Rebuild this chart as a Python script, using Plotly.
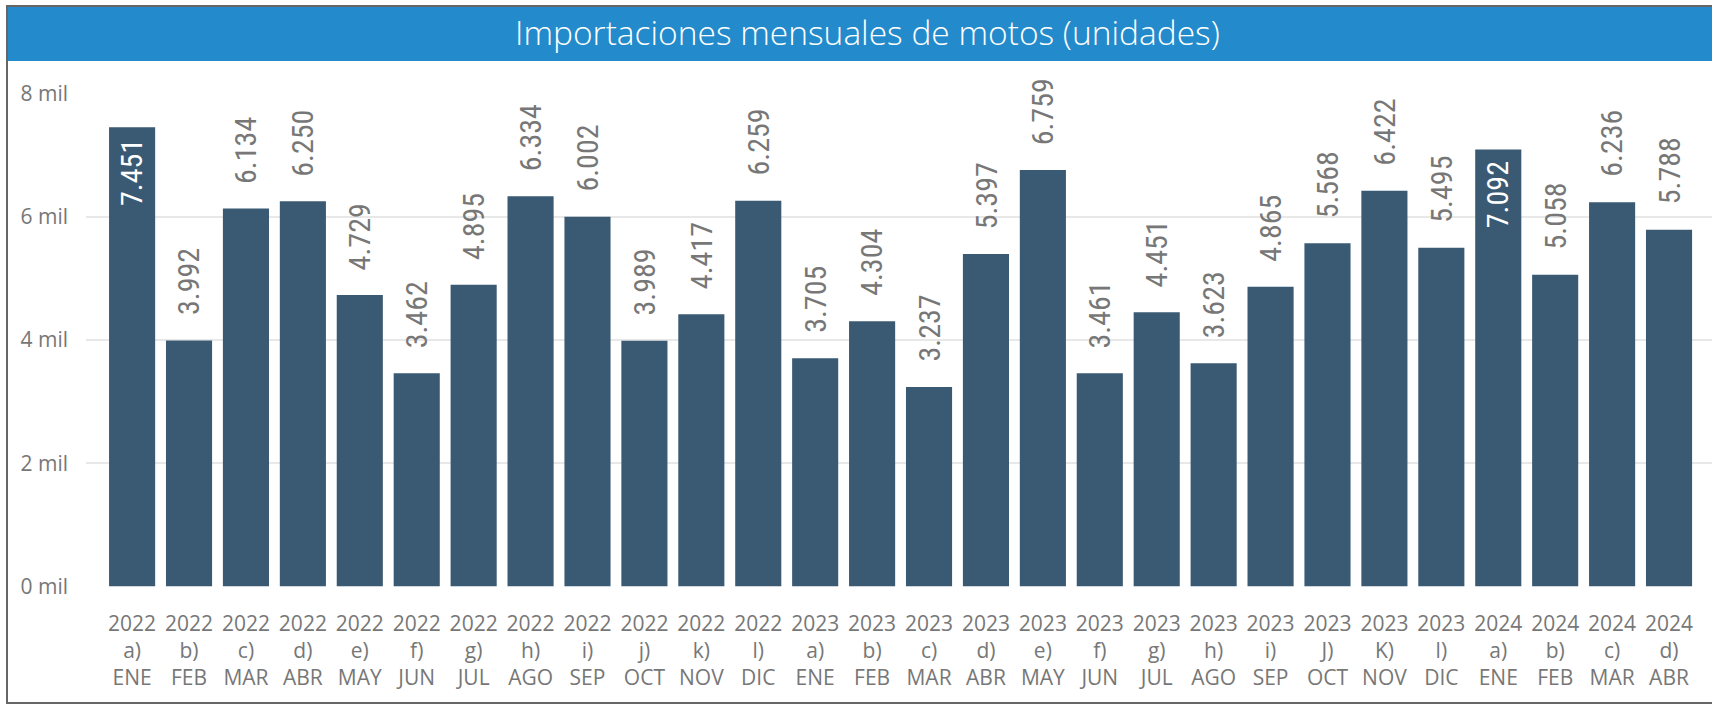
import plotly.graph_objects as go

years = ["2022"] * 12 + ["2023"] * 12 + ["2024"] * 4
letters = ["a)", "b)", "c)", "d)", "e)", "f)", "g)", "h)", "i)", "j)", "k)", "l)",
           "a)", "b)", "c)", "d)", "e)", "f)", "g)", "h)", "i)", "J)", "K)", "l)",
           "a)", "b)", "c)", "d)"]
months = ["ENE", "FEB", "MAR", "ABR", "MAY", "JUN", "JUL", "AGO", "SEP", "OCT", "NOV", "DIC",
          "ENE", "FEB", "MAR", "ABR", "MAY", "JUN", "JUL", "AGO", "SEP", "OCT", "NOV", "DIC",
          "ENE", "FEB", "MAR", "ABR"]
values = [7451, 3992, 6134, 6250, 4729, 3462, 4895, 6334, 6002, 3989, 4417, 6259,
          3705, 4304, 3237, 5397, 6759, 3461, 4451, 3623, 4865, 5568, 6422, 5495,
          7092, 5058, 6236, 5788]
y_ticks = [0, 2000, 4000, 6000, 8000]
y_tick_labels = ["0 mil", "2 mil", "4 mil", "6 mil", "8 mil"]
title_text = "Importaciones mensuales de motos (unidades)"

W, H = 1712, 704
BAR = "#3A5A73"
GRAY = "#777777"
LABEL_FONT = "Liberation Sans Narrow, Roboto Condensed, Roboto, sans-serif"
TICK_FONT = "Open Sans, Noto Sans, sans-serif"

cats = [f"{y}<br>{l}<br>{m}" for y, l, m in zip(years, letters, months)]

def fmt(v):
    return f"{v:,}".replace(",", ".")

fig = go.Figure()
fig.add_trace(go.Bar(x=cats, y=values, marker=dict(color=BAR, line=dict(width=0)),
                     hoverinfo="x+y"))

annotations = []
for c, v in zip(cats, values):
    inside = v > 7000
    annotations.append(dict(
        x=c, y=v, xref="x", yref="y", text=fmt(v), showarrow=False, textangle=-90,
        yanchor="top" if inside else "bottom", xanchor="center",
        yshift=-10 if inside else 23,
        font=dict(family=LABEL_FONT, size=30, color="white" if inside else GRAY),
    ))

# title
annotations.append(dict(
    x=867 / W, y=1 - 32 / H, xref="paper", yref="paper", text=title_text,
    showarrow=False, xanchor="center", yanchor="middle",
    font=dict(family="Open Sans, Noto Sans, sans-serif", size=33.5, color="white", weight=300),
))

shapes = [
    # title bar
    dict(type="rect", xref="paper", yref="paper", x0=8 / W, x1=1.0, y0=1 - 61 / H, y1=1 - 7 / H,
         fillcolor="#238BCB", line=dict(width=0), layer="below"),
    # frame left, top, bottom
    dict(type="line", xref="paper", yref="paper", x0=7 / W, x1=7 / W, y0=1 / H, y1=1 - 6 / H,
         line=dict(color="#666666", width=2)),
    dict(type="line", xref="paper", yref="paper", x0=6 / W, x1=1.0, y0=1 - 6 / H, y1=1 - 6 / H,
         line=dict(color="#666666", width=2)),
    dict(type="line", xref="paper", yref="paper", x0=6 / W, x1=1.0, y0=1 / H, y1=1 / H,
         line=dict(color="#666666", width=2)),
]

x_left = 86
y_top, y_bot = 93.5, 586.5

fig.update_layout(
    width=W, height=H,
    margin=dict(l=0, r=0, t=0, b=0, autoexpand=False),
    paper_bgcolor="white", plot_bgcolor="white",
    showlegend=False,
    bargap=0.19,
    annotations=annotations,
    shapes=shapes,
    xaxis=dict(
        domain=[x_left / W, 1.0],
        range=[-0.81, 27.755],
        automargin=False,
        showgrid=False, showline=False, zeroline=False, ticks="",
        tickfont=dict(family=TICK_FONT, size=21, color=GRAY),
        ticklabelstandoff=22,
        fixedrange=True,
    ),
    yaxis=dict(
        domain=[1 - y_bot / H, 1 - y_top / H],
        range=[0, 8000],
        automargin=False,
        tickvals=y_ticks, ticktext=y_tick_labels,
        showgrid=True, gridcolor="#E8E8E8", gridwidth=2,
        zeroline=False, showline=False, ticks="",
        tickfont=dict(family=TICK_FONT, size=21, color=GRAY),
        ticklabelstandoff=17,
        fixedrange=True,
    ),
)

fig.write_html("out.html", config={"displayModeBar": False},
               post_script="document.body.style.margin='0';document.body.style.overflow='hidden';")
